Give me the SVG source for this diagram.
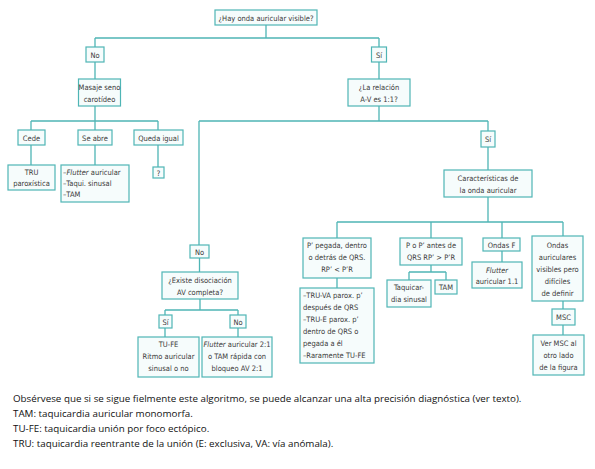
<svg xmlns="http://www.w3.org/2000/svg" width="595" height="469" viewBox="0 0 595 469">
<style>
.b{fill:#f6fcfc;stroke:#4fb5b5;stroke-width:1.2}
.c{fill:none;stroke:#4fb5b5;stroke-width:1.3}
.t{font-family:"DejaVu Sans Condensed","Liberation Sans Narrow","Liberation Sans",sans-serif;font-size:7.5px;fill:#3a3a3a;text-anchor:middle}
.l{text-anchor:start}
.cap{font-family:"Open Sans","Liberation Sans",sans-serif;font-size:9.8px;fill:#111}
</style>
<rect width="595" height="469" fill="#fff"/>
<g id="connectors" class="c">
<path d="M266 25V38M95 38H379M95 38V47M379 38V47"/>
<path d="M95 62V79M95 106V121M31 121H158M31 121V130M95 121V130M158 121V130"/>
<path d="M31 145V165M95 145V165M158 145V167"/>
<path d="M379 62V79M379 106V121M199 121H488M199 121V245M488 121V131M488 147V170M488 197V222"/>
<path d="M337 222H563M337 222V238M431 222V238M502 222V238M563 222V236"/>
<path d="M337 278V288M431 265V272M409 272H446M409 272V280M446 272V280M502 251V262M563 301V309M563 325V335"/>
<path d="M199.5 258V272M200 299V310M165 310H238M165 310V315M238 310V315M165 328V337M238 328V337"/>
</g>
<g id="n_top"><rect class="b" x="215" y="10" width="102" height="15"/><text class="t" x="266" y="20.5">¿Hay onda auricular visible?</text></g>
<g id="n_no1"><rect class="b" x="86" y="47" width="18" height="15"/><text class="t" x="95" y="57.5">No</text></g>
<g id="n_si1"><rect class="b" x="371.5" y="47" width="15" height="15"/><text class="t" x="379" y="57.5">Sí</text></g>
<g id="n_masaje"><rect class="b" x="78.5" y="79" width="42" height="27"/><text class="t" x="99.5" y="90">Masaje seno</text><text class="t" x="99.5" y="101.5">carotídeo</text></g>
<g id="n_relacion"><rect class="b" x="348" y="79" width="62" height="27"/><text class="t" x="379" y="90">¿La relación</text><text class="t" x="379" y="101.5">A-V es 1:1?</text></g>
<g id="n_cede"><rect class="b" x="18" y="130" width="27" height="15"/><text class="t" x="31.5" y="140.5">Cede</text></g>
<g id="n_seabre"><rect class="b" x="78" y="130" width="34" height="15"/><text class="t" x="95" y="140.5">Se abre</text></g>
<g id="n_queda"><rect class="b" x="134" y="130" width="49" height="15"/><text class="t" x="158.5" y="140.5">Queda igual</text></g>
<g id="n_tru"><rect class="b" x="8" y="165" width="47" height="25"/><text class="t" x="31.5" y="175">TRU</text><text class="t" x="31.5" y="186">paroxística</text></g>
<g id="n_flutlist"><rect class="b" x="61" y="165" width="68" height="37"/><text class="t l" x="63" y="175">–<tspan font-style="italic">Flutter</tspan> auricular</text><text class="t l" x="63" y="186">–Taqui. sinusal</text><text class="t l" x="63" y="197">–TAM</text></g>
<g id="n_q"><rect class="b" x="153" y="167" width="11" height="11"/><text class="t" x="158.5" y="175.5">?</text></g>
<g id="n_si2"><rect class="b" x="481" y="131" width="14" height="16"/><text class="t" x="488" y="142">Sí</text></g>
<g id="n_caract"><rect class="b" x="444" y="170" width="88" height="27"/><text class="t" x="488" y="181">Características de</text><text class="t" x="488" y="192.5">la onda auricular</text></g>
<g id="n_ppeg"><rect class="b" x="303" y="238" width="68" height="40"/><text class="t" x="337" y="248">P’ pegada, dentro</text><text class="t" x="337" y="260">o detrás de QRS.</text><text class="t" x="337" y="272">RP’ &lt; P’R</text></g>
<g id="n_trulist"><rect class="b" x="300" y="288" width="74" height="75"/><text class="t l" x="303" y="298">–TRU-VA parox. p’</text><text class="t l" x="303" y="310">después de QRS</text><text class="t l" x="303" y="322">–TRU-E parox. p’</text><text class="t l" x="303" y="334">dentro de QRS o</text><text class="t l" x="303" y="346">pegada a él</text><text class="t l" x="303" y="358">–Raramente TU-FE</text></g>
<g id="n_pop"><rect class="b" x="400" y="238" width="62" height="27"/><text class="t" x="431" y="248">P o P’ antes de</text><text class="t" x="431" y="260">QRS RP’ &gt; P’R</text></g>
<g id="n_taqsin"><rect class="b" x="387" y="280" width="44" height="27"/><text class="t" x="409" y="290">Taquicar-</text><text class="t" x="409" y="302">dia sinusal</text></g>
<g id="n_tam"><rect class="b" x="435" y="280" width="22" height="14"/><text class="t" x="446" y="290">TAM</text></g>
<g id="n_ondasf"><rect class="b" x="483" y="238" width="37" height="13"/><text class="t" x="501.5" y="247.5">Ondas F</text></g>
<g id="n_flut11"><rect class="b" x="472" y="262" width="50" height="26"/><text class="t" x="497" y="272.5" font-style="italic">Flutter</text><text class="t" x="497" y="284">auricular 1.1</text></g>
<g id="n_ondasdif"><rect class="b" x="532" y="236" width="51" height="65"/><text class="t" x="557.5" y="248">Ondas</text><text class="t" x="557.5" y="260">auriculares</text><text class="t" x="557.5" y="271.5">visibles pero</text><text class="t" x="557.5" y="283.5">difíciles</text><text class="t" x="557.5" y="295.5">de definir</text></g>
<g id="n_msc"><rect class="b" x="552" y="309" width="23" height="16"/><text class="t" x="563.5" y="320">MSC</text></g>
<g id="n_vermsc"><rect class="b" x="533" y="335" width="51" height="40"/><text class="t" x="558.5" y="346">Ver MSC al</text><text class="t" x="558.5" y="358">otro lado</text><text class="t" x="558.5" y="370">de la figura</text></g>
<g id="n_no2"><rect class="b" x="190" y="245" width="19" height="13"/><text class="t" x="199.5" y="254.5">No</text></g>
<g id="n_exist"><rect class="b" x="162" y="272" width="76" height="27"/><text class="t" x="200" y="283">¿Existe disociación</text><text class="t" x="200" y="295">AV completa?</text></g>
<g id="n_si3"><rect class="b" x="159" y="315" width="13" height="13"/><text class="t" x="165.5" y="324.5">Sí</text></g>
<g id="n_no3"><rect class="b" x="230" y="315" width="16" height="13"/><text class="t" x="238" y="324.5">No</text></g>
<g id="n_tufe"><rect class="b" x="138" y="337" width="61" height="40"/><text class="t" x="168.5" y="347">TU-FE</text><text class="t" x="168.5" y="359">Ritmo auricular</text><text class="t" x="168.5" y="371">sinusal o no</text></g>
<g id="n_flut21"><rect class="b" x="202" y="337" width="70" height="40"/><text class="t" x="237" y="347"><tspan font-style="italic">Flutter</tspan> auricular 2:1</text><text class="t" x="237" y="359">o TAM rápida con</text><text class="t" x="237" y="371">bloqueo AV 2:1</text></g>
<g id="caption" class="cap">
<text x="13" y="401.5">Obsérvese que si se sigue fielmente este algoritmo, se puede alcanzar una alta precisión diagnóstica (ver texto).</text>
<text x="13" y="416.5">TAM: taquicardia auricular monomorfa.</text>
<text x="13" y="431.5">TU-FE: taquicardia unión por foco ectópico.</text>
<text x="13" y="446.5">TRU: taquicardia reentrante de la unión (E: exclusiva, VA: vía anómala).</text>
</g>
</svg>
